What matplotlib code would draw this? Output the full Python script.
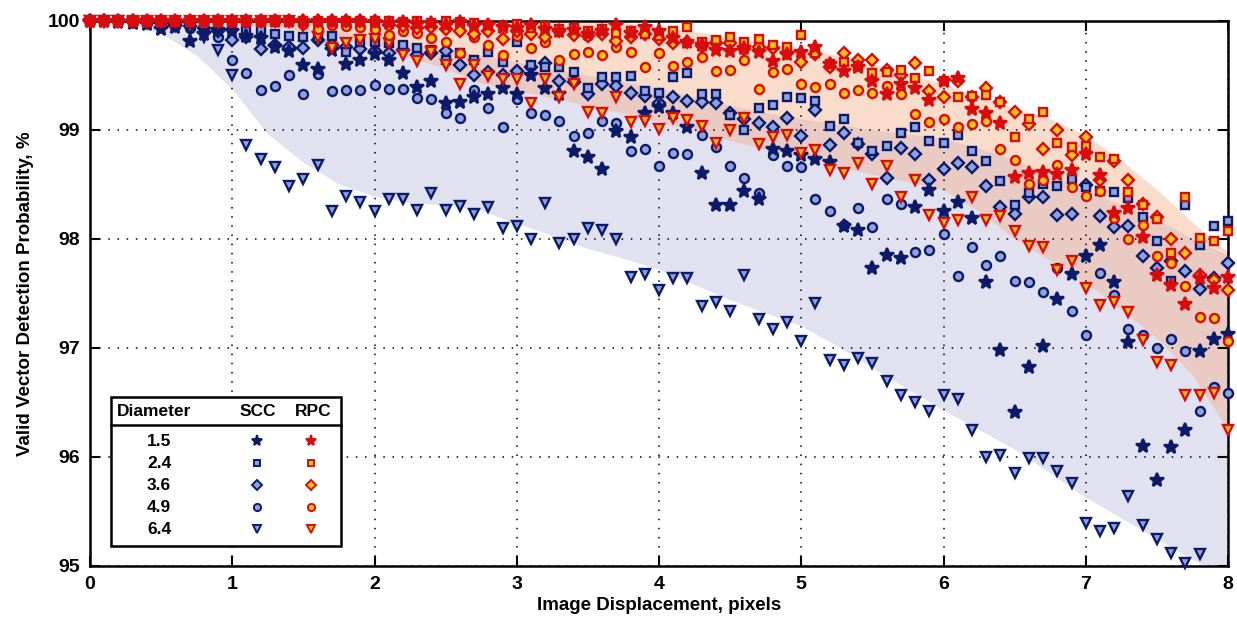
import numpy as np
import matplotlib
matplotlib.use("Agg")
import matplotlib.pyplot as plt
from matplotlib.patches import Rectangle

plt.rcParams['font.family'] = ['Liberation Sans', 'DejaVu Sans']
plt.rcParams['font.weight'] = 'bold'

# image displacement, 0.0 ... 8.0 px in steps of 0.1
disp = np.arange(81) / 10

nan = np.nan

# SCC series (per particle diameter)
scc_15 = [100, 100, 99.99, 99.98, 99.97, 99.92, 99.94, 99.81, 99.88, 99.91,
          99.9, 99.86, 99.84, 99.76, 99.72, 99.59, 99.56, 99.73, 99.6, 99.64,
          99.69, 99.64, 99.52, 99.39, 99.45, 99.24, 99.25, 99.3, 99.33, 99.38,
          99.33, 99.5, 99.38, 99.33, 98.8, 98.75, 98.64, 98.99, 98.93, 99.15,
          99.21, 99.15, 99.02, 98.6, 98.31, 98.31, 98.44, 98.36, 98.82, 98.8,
          98.77, 98.73, 98.7, 98.12, 98.08, 97.73, 97.85, 97.82, 98.29, 98.45,
          98.25, 98.34, 98.19, 97.6, 96.98, 96.41, 96.82, 97.02, 97.45, 97.68,
          97.84, 97.94, 97.6, 97.05, 96.1, 95.79, 96.09, 96.25, 96.97, 97.08,
          97.13]
scc_24 = [100, 100, 100, 100, 100, 99.99, 99.98, 99.97, 99.96, 99.95,
          99.93, 99.9, 99.91, 99.88, 99.86, 99.85, 99.84, 99.86, 99.71, 99.8,
          99.8, 99.79, 99.78, 99.75, 99.73, 99.64, 99.7, 99.64, 99.71, 99.62,
          99.8, 99.59, 99.57, 99.57, 99.53, 99.38, 99.48, 99.48, 99.49, 99.35,
          99.34, 99.48, 99.52, 99.33, 99.33, 99.13, 99.0, 99.2, 99.23, 99.3,
          99.29, 99.26, 99.03, 99.1, 98.88, 98.8, 98.85, 98.97, 99.02, 98.9,
          98.88, 98.95, 98.8, 98.71, 98.53, 98.31, 98.42, 98.5, 98.48, 98.55,
          98.47, 98.44, 98.43, 98.37, 98.2, 97.98, 97.61, 98.31, 97.94, 98.12,
          98.16]
scc_36 = [100, 100, 100, 100, 99.99, 99.98, 99.97, 99.95, 99.93, 99.9,
          99.82, 99.85, 99.74, 99.78, 99.76, 99.75, 99.82, 99.78, 99.76, 99.74,
          99.72, 99.7, 99.73, 99.68, 99.7, 99.72, 99.59, 99.5, 99.53, 99.5,
          99.54, 99.57, 99.61, 99.45, 99.44, 99.33, 99.42, 99.4, 99.34, 99.31,
          99.24, 99.3, 99.26, 99.25, 99.24, 99.15, 99.1, 99.06, 99.02, 99.11,
          98.94, 99.18, 98.86, 98.97, 98.87, 98.78, 98.56, 98.83, 98.78, 98.54,
          98.64, 98.69, 98.66, 98.48, 98.29, 98.23, 98.38, 98.38, 98.22, 98.23,
          98.49, 98.21, 98.11, 98.12, 97.84, 97.73, 97.8, 97.7, 97.54, 97.64,
          97.78]
scc_49 = [100, 100, 100, 99.99, 99.98, 99.97, 99.95, 99.93, 99.9, 99.85,
          99.64, 99.52, 99.36, 99.4, 99.5, 99.33, 99.51, 99.35, 99.36, 99.36,
          99.41, 99.37, 99.37, 99.29, 99.28, 99.15, 99.11, 99.36, 99.2, 99.02,
          99.28, 99.15, 99.13, 99.08, 98.94, 98.97, 99.08, 99.06, 98.8, 98.82,
          98.67, 98.79, 98.78, 98.95, 98.84, 98.67, 98.56, 98.42, 98.77, 98.67,
          98.66, 98.36, 98.25, 98.13, 98.28, 98.11, 98.36, 98.32, 97.88, 97.9,
          98.04, 97.66, 97.92, 97.76, 97.84, 97.61, 97.6, 97.51, 97.73, 97.34,
          97.12, 97.69, 97.48, 97.17, 97.12, 97.0, 97.08, 96.97, 96.42, 96.64,
          96.59]
scc_64 = [100, 100, 100, 99.99, 99.98, 99.97, 99.95, 99.92, 99.85, 99.73,
          99.5, 98.86, 98.73, 98.66, 98.48, 98.55, 98.68, 98.25, 98.39, 98.34,
          98.25, 98.36, 98.36, 98.26, 98.42, 98.26, 98.3, 98.23, 98.29, 98.1,
          98.12, 98.0, 98.33, 97.96, 98.0, 98.1, 98.08, 98.0, 97.65, 97.68,
          97.53, 97.64, 97.64, 97.38, 97.42, 97.34, 97.67, 97.26, 97.17, 97.24,
          97.06, 97.41, 96.89, 96.84, 96.91, 96.86, 96.7, 96.57, 96.5, 96.42,
          96.57, 96.53, 96.25, 96.0, 96.02, 95.85, 95.99, 95.99, 95.87, 95.76,
          95.39, 95.32, 95.35, 95.64, 95.38, 95.25, 95.12, 95.03, 95.11, nan,
          nan]

# RPC series
rpc_15 = [100] * 20 + [
          99.99, 99.98, 99.99, 99.97, 99.98, 99.96, 99.99, 99.95, 99.96, 99.94,
          99.93, 99.96, 99.92, 99.9, 99.91, 99.88, 99.9, 99.96, 99.89, 99.94,
          99.9, 99.84, 99.8, 99.78, 99.73, 99.72, 99.75, 99.71, 99.63, 99.69,
          99.71, 99.76, 99.6, 99.54, 99.57, 99.45, 99.33, 99.42, 99.38, 99.27,
          99.45, 99.47, 99.19, 99.15, 99.06, 98.57, 98.6, 98.61, 98.59, 98.63,
          98.78, 98.58, 98.24, 98.28, 98.02, 97.67, 97.58, 97.4, 97.64, 97.55,
          97.65]
rpc_24 = [100] * 20 + [
          100, 100, 99.99, 100, 99.98, 100, 99.99, 99.98, 99.96, 99.95,
          99.97, 99.93, 99.95, 99.92, 99.93, 99.9, 99.92, 99.89, 99.9, 99.88,
          99.86, 99.9, 99.94, 99.8, 99.82, 99.85, 99.8, 99.83, 99.78, 99.76,
          99.87, 99.7, 99.6, 99.62, 99.58, 99.52, 99.53, 99.55, 99.47, 99.54,
          99.45, 99.3, 99.31, 99.32, 99.25, 98.93, 99.1, 99.16, 98.88, 98.84,
          98.85, 98.75, 98.73, 98.43, 98.31, 98.18, 97.87, 98.38, 98.01, 97.98,
          98.07]
rpc_36 = [100] * 20 + [
          100, 99.96, 99.95, 99.93, 99.94, 99.92, 99.9, 99.88, 99.9, 99.83,
          99.9, 99.88, 99.85, 99.9, 99.87, 99.86, 99.88, 99.81, 99.85, 99.88,
          99.83, 99.79, 99.8, 99.77, 99.79, 99.79, 99.74, 99.76, 99.75, 99.7,
          99.62, 99.69, 99.57, 99.7, 99.64, 99.64, 99.55, 99.5, 99.61, 99.35,
          99.3, 99.45, 99.3, 99.38, 99.25, 99.16, 99.05, 98.82, 99.0, 98.77,
          98.93, 98.54, 98.71, 98.54, 98.32, 98.2, 98.0, 97.87, 97.67, 97.62,
          97.53]
rpc_49 = [100] * 15 + [
          99.97, 99.92, 99.96, 99.95, 99.94,
          99.92, 99.87, 99.9, 99.89, 99.84, 99.8, 99.7, 99.85, 99.78, 99.68,
          99.86, 99.75, 99.8, 99.64, 99.69, 99.71, 99.68, 99.76, 99.71, 99.57,
          99.7, 99.58, 99.62, 99.67, 99.54, 99.55, 99.64, 99.37, 99.53, 99.56,
          99.42, 99.39, 99.42, 99.34, 99.36, 99.34, 99.4, 99.33, 99.14, 99.07,
          99.1, 99.02, 99.05, 99.08, 98.82, 98.72, 98.5, 98.54, 98.68, 98.47,
          98.39, 98.44, 98.19, 98.0, 98.13, 97.84, 97.78, 97.57, 97.28, 97.27,
          97.06]
rpc_64 = [100] * 15 + [
          99.95, 99.85, 99.75, 99.79, 99.82,
          99.83, 99.79, 99.68, 99.63, 99.71, 99.59, 99.42, 99.59, 99.49, 99.46,
          99.46, 99.24, 99.46, 99.3, 99.42, 99.16, 99.15, 99.3, 99.07, 99.08,
          99.01, 99.11, 99.09, 99.03, 98.88, 99.0, 99.11, 98.87, 98.93, 98.95,
          98.79, 98.81, 98.63, 98.6, 98.69, 98.5, 98.67, 98.38, 98.54, 98.22,
          98.14, 98.17, 98.38, 98.17, 98.21, 98.07, 97.93, 97.92, 97.71, 97.8,
          97.55, 97.39, 97.42, 97.33, 97.07, 96.87, 96.84, 96.57, 96.57, 96.59,
          96.25]

# envelopes of the shaded bands (every 0.25 px)
band_x = np.arange(33) / 4
scc_low = [100, 99.97, 99.88, 99.68, 99.37, 98.96, 98.7, 98.5, 98.39, 98.33,
           98.31, 98.26, 98.14, 98.03, 97.91, 97.82, 97.72, 97.58, 97.44, 97.32,
           97.2, 97.02, 96.82, 96.62, 96.43, 96.25, 96.07, 95.85, 95.63, 95.44,
           95.25, 95.06, 94.9]
scc_up = [100, 100, 100, 100, 99.99, 99.97, 99.94, 99.9, 99.85, 99.79,
          99.73, 99.68, 99.62, 99.56, 99.5, 99.44, 99.38, 99.3, 99.22, 99.16,
          99.1, 99.05, 99.0, 98.96, 98.92, 98.83, 98.72, 98.59, 98.44, 98.31,
          98.18, 98.0, 97.85]
rpc_low = [100, 100, 100, 100, 99.98, 99.95, 99.9, 99.84, 99.76, 99.66,
           99.56, 99.43, 99.36, 99.29, 99.22, 99.15, 99.07, 98.99, 98.9, 98.82,
           98.75, 98.67, 98.59, 98.52, 98.45, 98.25, 98.0, 97.8, 97.6, 97.35,
           97.09, 96.75, 96.25]
rpc_up = [100, 100, 100, 100, 100, 100, 100, 100, 100, 100,
          100, 100, 100, 100, 100, 99.98, 99.95, 99.9, 99.85, 99.8,
          99.75, 99.68, 99.6, 99.51, 99.42, 99.3, 99.2, 99.1, 98.95, 98.72,
          98.45, 98.15, 97.88]

diam_labels = ['1.5', '2.4', '3.6', '4.9', '6.4']
markers = ['*', 's', 'D', 'o', 'v']
sizes = [10, 6, 6, 6.5, 7.5]
scc_series = [scc_15, scc_24, scc_36, scc_49, scc_64]
rpc_series = [rpc_15, rpc_24, rpc_36, rpc_49, rpc_64]

navy = '#0c1a6a'
scc_fill = '#8ea4dc'
red = '#d80c0c'
rpc_fill = '#ffc414'

fig = plt.figure(figsize=(12.37, 6.25), dpi=100)
ax = fig.add_axes([90 / 1237, 59 / 625, 1138 / 1237, 545.5 / 625])

ax.fill_between(band_x, scc_low, scc_up, color='#c2c2e0', alpha=0.48, lw=0, zorder=0.5)
ax.fill_between(band_x, rpc_low, rpc_up, color='#f5ad85', alpha=0.42, lw=0, zorder=0.6)


def style(group, m):
    if m == '*':
        return (navy, navy) if group == 'scc' else (red, red)
    return (scc_fill, navy) if group == 'scc' else (rpc_fill, red)


# draw the larger ones first so small markers stay visible
order = [4, 3, 2, 1, 0]
for group, series in [('scc', scc_series), ('rpc', rpc_series)]:
    for i in order:
        fc, ec = style(group, markers[i])
        ax.plot(disp, series[i], ls='none', marker=markers[i], ms=sizes[i],
                mfc=fc, mec=ec, mew=1.7, clip_on=False, zorder=3)

ax.set_xlim(0, 8)
ax.set_ylim(95, 100)
ax.set_xticks(range(0, 9))
ax.set_yticks(range(95, 101))
ax.grid(True, color='black', linestyle=(0, (1, 5)), linewidth=1.1)
ax.tick_params(direction='in', length=7, width=1.5, top=True, right=True,
               labelsize=14, pad=7)
for sp in ax.spines.values():
    sp.set_linewidth(1.8)

ax.set_xlabel('Image Displacement, pixels', fontsize=13.5, fontweight='bold', labelpad=3)
ax.set_ylabel('Valid Vector Detection Probability, %', fontsize=13.5,
              fontweight='bold', labelpad=10)

# table-style legend
tr = ax.transAxes
def fy(py):
    return (566 - py) / 545.5

bx0, bx1 = 21 / 1138, 251 / 1138
ax.add_patch(Rectangle((bx0, fy(546)), bx1 - bx0, fy(397) - fy(546), transform=tr,
                       fc='white', ec='black', lw=1.8, zorder=5, clip_on=False))
ax.plot([bx0, bx1], [fy(425), fy(425)], transform=tr, color='black', lw=1.8, zorder=6)
ax.text(27 / 1138, fy(411), 'Diameter', transform=tr, ha='left', va='center',
        fontsize=12.5, zorder=6)
ax.text(168 / 1138, fy(411), 'SCC', transform=tr, ha='center', va='center',
        fontsize=12.5, zorder=6)
ax.text(223 / 1138, fy(411), 'RPC', transform=tr, ha='center', va='center',
        fontsize=12.5, zorder=6)
for i, lab in enumerate(diam_labels):
    yy = fy(441 + 22 * i)
    ax.text(69 / 1138, yy, lab, transform=tr, ha='center', va='center',
            fontsize=12.5, zorder=6)
    for group, xx in [('scc', 167 / 1138), ('rpc', 221 / 1138)]:
        fc, ec = style(group, markers[i])
        ax.plot([xx], [yy], transform=tr, ls='none', marker=markers[i],
                ms=sizes[i] * 0.8, mfc=fc, mec=ec, mew=1.4, zorder=7, clip_on=False)

fig.savefig('out.png', dpi=100)
